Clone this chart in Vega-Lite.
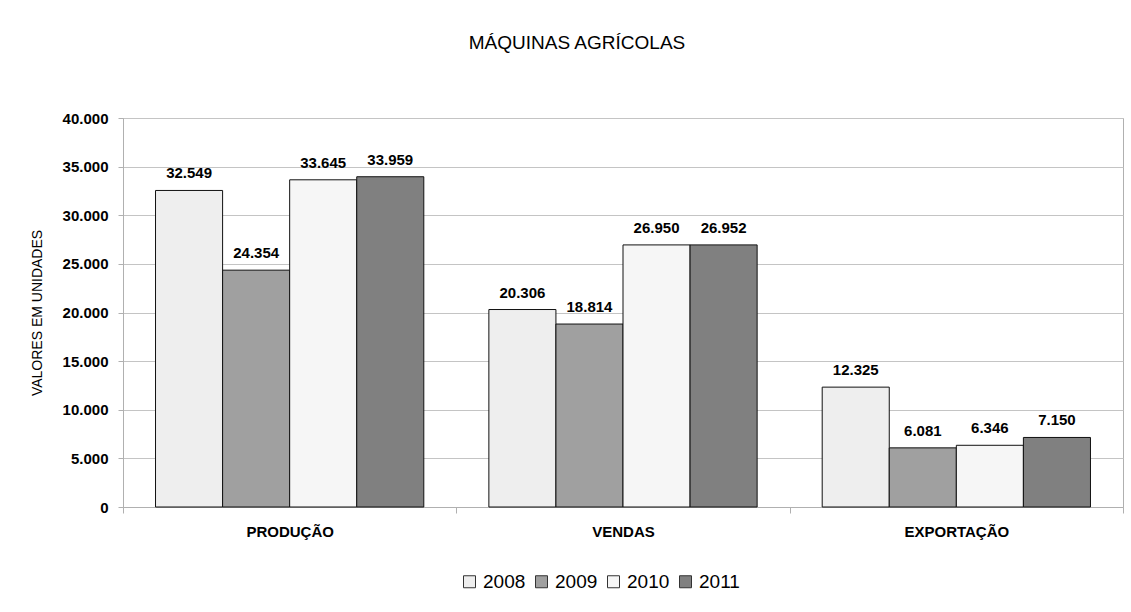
{
  "$schema": "https://vega.github.io/schema/vega-lite/v6.json",
  "width": 1000,
  "height": 389,
  "autosize": {"type": "none"},
  "padding": {"left": 123, "top": 118, "right": 8, "bottom": 105},
  "background": "white",
  "title": {
    "text": "MÁQUINAS AGRÍCOLAS",
    "font": "Liberation Sans",
    "fontSize": 19,
    "fontWeight": "normal",
    "color": "#000000",
    "anchor": "middle",
    "baseline": "alphabetic",
    "dx": -46,
    "offset": 43
  },
  "data": {
    "values": [
      {"categoria": "PRODUÇÃO", "ano": "2008", "valor": 32549},
      {"categoria": "PRODUÇÃO", "ano": "2009", "valor": 24354},
      {"categoria": "PRODUÇÃO", "ano": "2010", "valor": 33645},
      {"categoria": "PRODUÇÃO", "ano": "2011", "valor": 33959},
      {"categoria": "VENDAS", "ano": "2008", "valor": 20306},
      {"categoria": "VENDAS", "ano": "2009", "valor": 18814},
      {"categoria": "VENDAS", "ano": "2010", "valor": 26950},
      {"categoria": "VENDAS", "ano": "2011", "valor": 26952},
      {"categoria": "EXPORTAÇÃO", "ano": "2008", "valor": 12325},
      {"categoria": "EXPORTAÇÃO", "ano": "2009", "valor": 6081},
      {"categoria": "EXPORTAÇÃO", "ano": "2010", "valor": 6346},
      {"categoria": "EXPORTAÇÃO", "ano": "2011", "valor": 7150}
    ]
  },
  "encoding": {
    "x": {
      "field": "categoria",
      "type": "nominal",
      "sort": ["PRODUÇÃO", "VENDAS", "EXPORTAÇÃO"],
      "scale": {"paddingInner": 0, "paddingOuter": 0},
      "axis": {
        "title": null,
        "labelAngle": 0,
        "tickBand": "extent",
        "ticks": true,
        "tickSize": 6,
        "tickColor": "#b0b0b0",
        "domainColor": "#b0b0b0",
        "labelFont": "Liberation Sans",
        "labelFontSize": 15,
        "labelFontWeight": "bold",
        "labelColor": "#000000",
        "labelPadding": 11,
        "grid": false
      }
    },
    "xOffset": {
      "field": "ano",
      "type": "nominal",
      "scale": {"paddingInner": 0, "paddingOuter": 0.485}
    },
    "y": {
      "field": "valor",
      "type": "quantitative",
      "scale": {"domain": [0, 40000], "nice": false},
      "axis": {
        "title": "VALORES EM UNIDADES",
        "titleFont": "Liberation Sans",
        "titleFontSize": 14,
        "titleFontWeight": "normal",
        "titleColor": "#000000",
        "titlePadding": 18,
        "values": [0, 5000, 10000, 15000, 20000, 25000, 30000, 35000, 40000],
        "format": ",d",
        "labelFont": "Liberation Sans",
        "labelFontSize": 15,
        "labelFontWeight": "bold",
        "labelColor": "#000000",
        "labelPadding": 10,
        "tickSize": 5,
        "tickColor": "#b0b0b0",
        "domainColor": "#b0b0b0",
        "grid": true,
        "gridColor": "#c4c4c4",
        "gridWidth": 1
      }
    }
  },
  "layer": [
    {
      "mark": {"type": "bar", "stroke": "#111111", "strokeWidth": 1},
      "encoding": {
        "color": {
          "field": "ano",
          "type": "nominal",
          "scale": {"domain": ["2008", "2009", "2010", "2011"], "range": ["#eeeeee", "#a0a0a0", "#f6f6f6", "#808080"]},
          "legend": {
            "title": null,
            "orient": "none",
            "direction": "horizontal",
            "legendX": 337,
            "legendY": 454,
            "symbolType": "square",
            "symbolSize": 144,
            "symbolStrokeColor": "#333333",
            "symbolStrokeWidth": 1,
            "symbolOpacity": 1,
            "labelFont": "Liberation Sans",
            "labelFontSize": 19,
            "labelColor": "#000000",
            "labelOffset": 4,
            "columnPadding": 6
          }
        }
      }
    },
    {
      "mark": {
        "type": "text",
        "font": "Liberation Sans",
        "fontSize": 15,
        "fontWeight": "bold",
        "color": "#000000",
        "baseline": "alphabetic",
        "dy": -12
      },
      "encoding": {
        "text": {"field": "valor", "type": "quantitative", "format": ",d"}
      }
    }
  ],
  "config": {
    "locale": {
      "number": {"decimal": ",", "thousands": ".", "grouping": [3], "currency": ["R$", ""]}
    },
    "view": {"stroke": "#b0b0b0", "strokeWidth": 1},
    "font": "Liberation Sans"
  }
}
